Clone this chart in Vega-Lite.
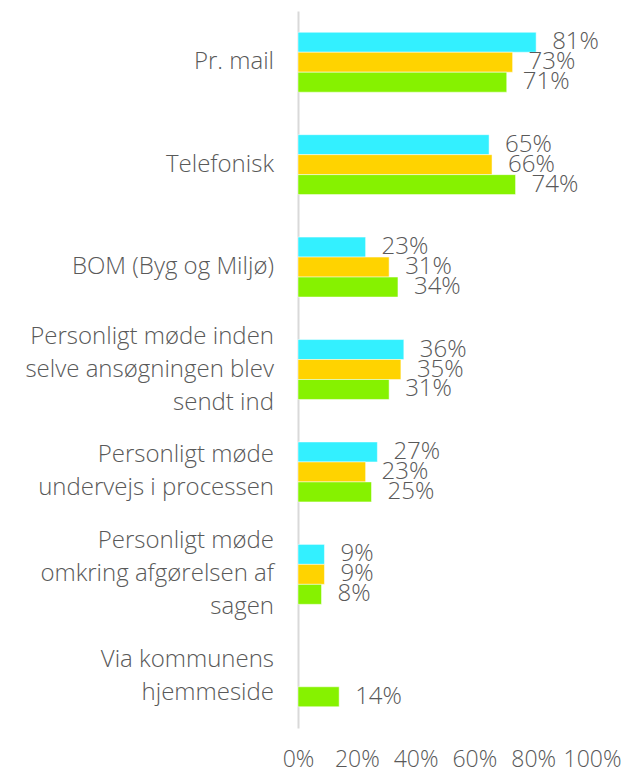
{
  "$schema": "https://vega.github.io/schema/vega-lite/v6.json",
  "autosize": {"type": "none"},
  "width": 294,
  "height": 717,
  "padding": {"left": 298, "top": 11, "right": 33, "bottom": 45},
  "config": {
    "view": {"stroke": null},
    "font": "Open Sans",
    "text": {"font": "Open Sans"}
  },
  "data": {
    "values": [
      {"category": "Pr. mail", "series": "S1", "value": 0.81},
      {"category": "Pr. mail", "series": "S2", "value": 0.73},
      {"category": "Pr. mail", "series": "S3", "value": 0.71},
      {"category": "Telefonisk", "series": "S1", "value": 0.65},
      {"category": "Telefonisk", "series": "S2", "value": 0.66},
      {"category": "Telefonisk", "series": "S3", "value": 0.74},
      {"category": "BOM (Byg og Miljø)", "series": "S1", "value": 0.23},
      {"category": "BOM (Byg og Miljø)", "series": "S2", "value": 0.31},
      {"category": "BOM (Byg og Miljø)", "series": "S3", "value": 0.34},
      {"category": "Personligt møde inden|selve ansøgningen blev|sendt ind", "series": "S1", "value": 0.36},
      {"category": "Personligt møde inden|selve ansøgningen blev|sendt ind", "series": "S2", "value": 0.35},
      {"category": "Personligt møde inden|selve ansøgningen blev|sendt ind", "series": "S3", "value": 0.31},
      {"category": "Personligt møde|undervejs i processen", "series": "S1", "value": 0.27},
      {"category": "Personligt møde|undervejs i processen", "series": "S2", "value": 0.23},
      {"category": "Personligt møde|undervejs i processen", "series": "S3", "value": 0.25},
      {"category": "Personligt møde|omkring afgørelsen af|sagen", "series": "S1", "value": 0.09},
      {"category": "Personligt møde|omkring afgørelsen af|sagen", "series": "S2", "value": 0.09},
      {"category": "Personligt møde|omkring afgørelsen af|sagen", "series": "S3", "value": 0.08},
      {"category": "Via kommunens|hjemmeside", "series": "S3", "value": 0.14}
    ]
  },
  "encoding": {
    "y": {
      "field": "category",
      "type": "nominal",
      "sort": null,
      "scale": {"paddingInner": 0.415, "paddingOuter": 0.2075},
      "axis": {
        "title": null,
        "ticks": false,
        "labels": false,
        "domainColor": "#d9d9d9",
        "domainWidth": 2
      }
    }
  },
  "layer": [
    {
      "mark": {"type": "bar", "stroke": "white", "strokeWidth": 0.5},
      "encoding": {
        "yOffset": {"field": "series", "type": "nominal", "sort": ["S1", "S2", "S3"]},
        "x": {
          "field": "value",
          "type": "quantitative",
          "scale": {"domain": [0, 1]},
          "axis": {
            "title": null,
            "grid": false,
            "domain": false,
            "ticks": false,
            "values": [0, 0.2, 0.4, 0.6, 0.8, 1],
            "format": ".0%",
            "labelFontSize": 23,
            "labelFontWeight": 300,
            "labelColor": "#595959",
            "labelPadding": 20,
            "labelFlush": false
          }
        },
        "color": {
          "field": "series",
          "type": "nominal",
          "scale": {"domain": ["S1", "S2", "S3"], "range": ["#33F0FF", "#FFD300", "#86F200"]},
          "legend": null
        }
      }
    },
    {
      "mark": {"type": "text", "align": "left", "baseline": "middle", "dx": 16, "fontSize": 24, "fontWeight": 300, "color": "#595959"},
      "encoding": {
        "yOffset": {"field": "series", "type": "nominal", "sort": ["S1", "S2", "S3"]},
        "x": {"field": "value", "type": "quantitative"},
        "text": {"field": "value", "type": "quantitative", "format": ".0%"}
      }
    },
    {
      "transform": [{"filter": "datum.series === 'S3' && length(split(datum.category, '|')) === 1"}],
      "mark": {"type": "text", "align": "right", "baseline": "middle", "dx": -24, "fontSize": 24, "fontWeight": 300, "color": "#595959", "lineBreak": "|", "lineHeight": 33},
      "encoding": {
        "x": {"datum": 0, "type": "quantitative"},
        "text": {"field": "category", "type": "nominal"}
      }
    },
    {
      "transform": [{"filter": "datum.series === 'S3' && length(split(datum.category, '|')) === 2"}],
      "mark": {"type": "text", "align": "right", "baseline": "middle", "dx": -24, "dy": -16.5, "fontSize": 24, "fontWeight": 300, "color": "#595959", "lineBreak": "|", "lineHeight": 33},
      "encoding": {
        "x": {"datum": 0, "type": "quantitative"},
        "text": {"field": "category", "type": "nominal"}
      }
    },
    {
      "transform": [{"filter": "datum.series === 'S3' && length(split(datum.category, '|')) === 3"}],
      "mark": {"type": "text", "align": "right", "baseline": "middle", "dx": -24, "dy": -33, "fontSize": 24, "fontWeight": 300, "color": "#595959", "lineBreak": "|", "lineHeight": 33},
      "encoding": {
        "x": {"datum": 0, "type": "quantitative"},
        "text": {"field": "category", "type": "nominal"}
      }
    }
  ]
}
